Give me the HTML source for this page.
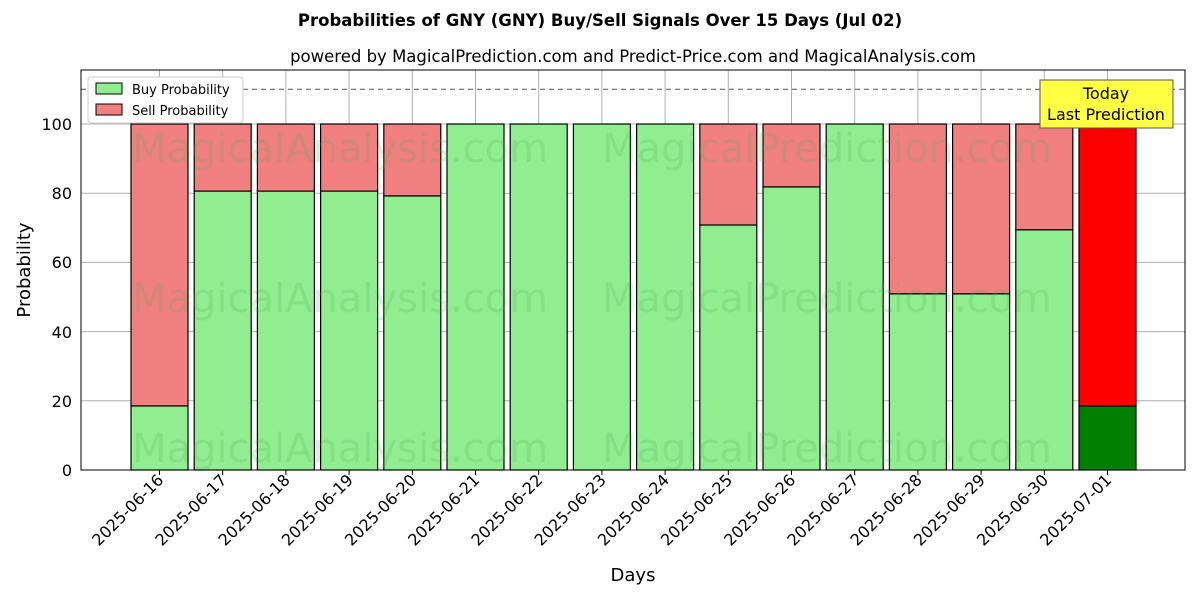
<!DOCTYPE html>
<html><head><meta charset="utf-8"><style>
body{margin:0;background:#fff;font-family:"Liberation Sans","DejaVu Sans",sans-serif;}
svg text{font-family:"DejaVu Sans","Liberation Sans",sans-serif;}
</style></head><body>
<svg width="1200" height="600" xmlns="http://www.w3.org/2000/svg">
<rect width="1200" height="600" fill="#fff"/>
<text x="600" y="26" text-anchor="middle" font-size="16.5" font-weight="bold">Probabilities of GNY (GNY) Buy/Sell Signals Over 15 Days (Jul 02)</text>
<text x="633" y="62" text-anchor="middle" font-size="16.5">powered by MagicalPrediction.com and Predict-Price.com and MagicalAnalysis.com</text>
<g id="bars"></g>
<g font-size="40" fill="#5a5" opacity="0.2">
<text x="132" y="162">MagicalAnalysis.com</text><text x="602" y="162">MagicalPrediction.com</text>
<text x="132" y="312">MagicalAnalysis.com</text><text x="602" y="312">MagicalPrediction.com</text>
<text x="132" y="462">MagicalAnalysis.com</text><text x="602" y="462">MagicalPrediction.com</text>
</g>
<line x1="81" y1="89.4" x2="1185" y2="89.4" stroke="#777" stroke-dasharray="5,4" stroke-width="1.3"/>
<rect x="81" y="70" width="1104" height="400" fill="none" stroke="#000" stroke-width="1"/>
<g font-size="16" text-anchor="end">
<text x="72" y="476">0</text><text x="72" y="407">20</text><text x="72" y="338">40</text><text x="72" y="268">60</text><text x="72" y="199">80</text><text x="72" y="130">100</text>
</g>
<text x="30" y="270" font-size="18" text-anchor="middle" transform="rotate(-90 30 270)">Probability</text>
<text x="633" y="581" font-size="18" text-anchor="middle">Days</text>
<g id="xl" font-size="16" text-anchor="end"></g>
<rect x="1040" y="80" width="133" height="48" fill="#ffff44" stroke="#555"/>
<text x="1106" y="99" font-size="16" text-anchor="middle">Today</text>
<text x="1106" y="120" font-size="16" text-anchor="middle">Last Prediction</text>
<rect x="88" y="77" width="155" height="46" fill="#fff" stroke="#ccc" rx="3"/>
<rect x="96" y="83" width="26" height="11" fill="#90ee90" stroke="#000"/>
<text x="132" y="94" font-size="13">Buy Probability</text>
<rect x="96" y="104" width="26" height="11" fill="#f08080" stroke="#000"/>
<text x="132" y="115" font-size="13">Sell Probability</text>
</svg>
<script>
var buy=[18.5,80.6,80.6,80.6,79.2,100,100,100,100,70.8,81.8,100,50.9,50.9,69.4,18.5];
var d=["2025-06-16","2025-06-17","2025-06-18","2025-06-19","2025-06-20","2025-06-21","2025-06-22","2025-06-23","2025-06-24","2025-06-25","2025-06-26","2025-06-27","2025-06-28","2025-06-29","2025-06-30","2025-07-01"];
var ns="http://www.w3.org/2000/svg",g=document.getElementById("bars"),xl=document.getElementById("xl");
function r(x,y,w,h,f){var e=document.createElementNS(ns,"rect");e.setAttribute("x",x);e.setAttribute("y",y);e.setAttribute("width",w);e.setAttribute("height",h);e.setAttribute("fill",f);e.setAttribute("stroke","#000");e.setAttribute("stroke-width","1.2");g.appendChild(e);}
function l(x1,y1,x2,y2){var e=document.createElementNS(ns,"line");e.setAttribute("x1",x1);e.setAttribute("y1",y1);e.setAttribute("x2",x2);e.setAttribute("y2",y2);e.setAttribute("stroke","#b0b0b0");e.setAttribute("stroke-width","1");g.appendChild(e);}
[0,20,40,60,80,100].forEach(function(v){l(81,470-v*3.46,1185,470-v*3.46);});
for(var i=0;i<16;i++){var c=159.5+i*63.2;l(c,70,c,470);}
for(var i=0;i<16;i++){var c=159.5+i*63.2,x=c-28.5,b=buy[i];var last=i==15;
r(x,124,57,346-b*3.46,last?"#ff0000":"#f08080");r(x,470-b*3.46,57,b*3.46,last?"#008000":"#90ee90");
var t=document.createElementNS(ns,"text");t.setAttribute("transform","translate("+(c+5)+",481) rotate(-45)");t.textContent=d[i];xl.appendChild(t);
var tk=document.createElementNS(ns,"line");tk.setAttribute("x1",c);tk.setAttribute("x2",c);tk.setAttribute("y1",470);tk.setAttribute("y2",475);tk.setAttribute("stroke","#000");xl.appendChild(tk);}
</script>
</body></html>
